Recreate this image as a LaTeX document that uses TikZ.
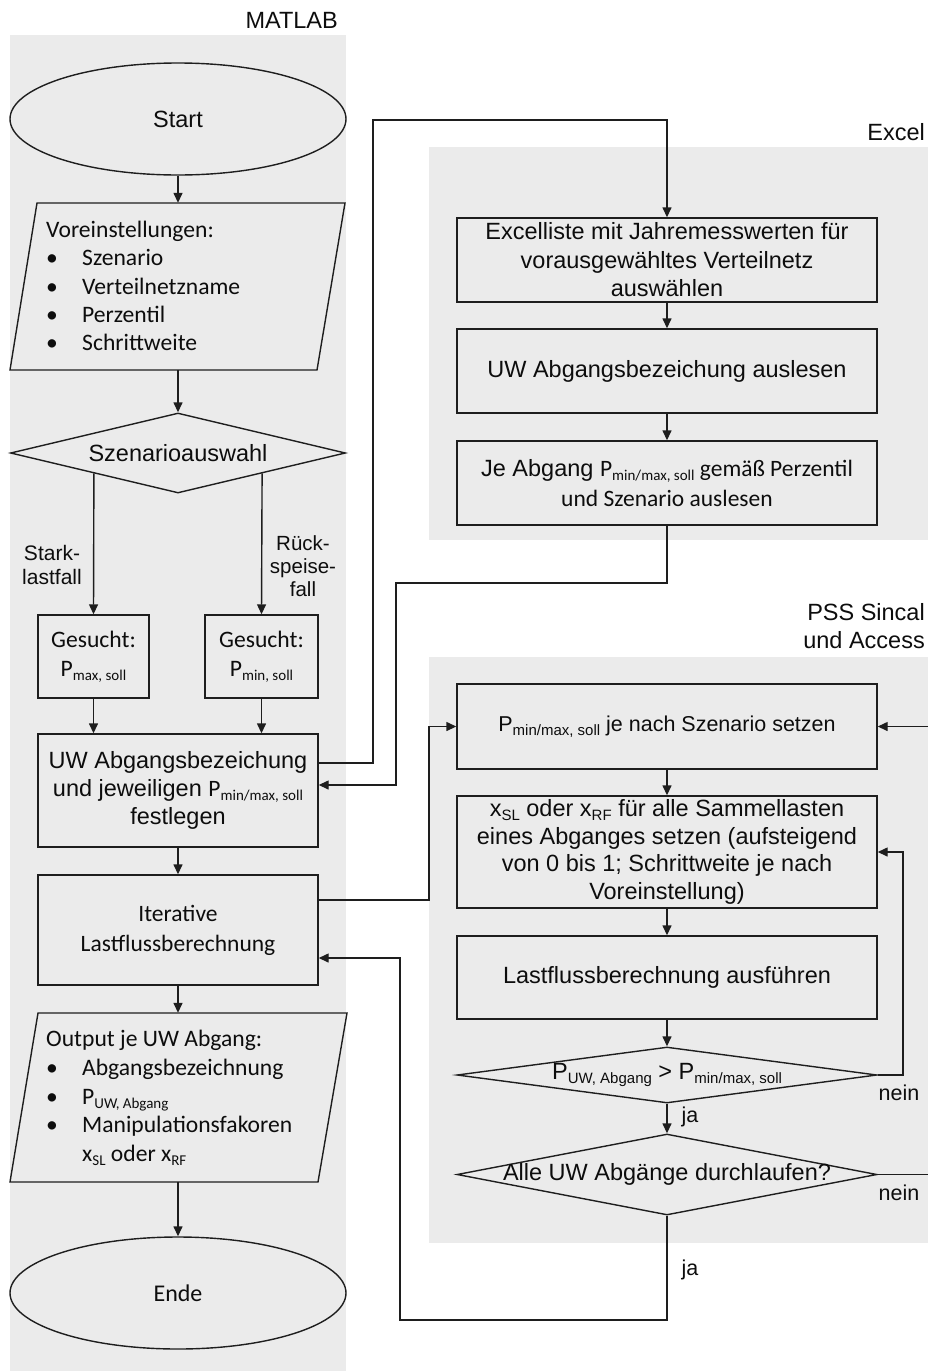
\documentclass[tikz,border=0pt]{standalone}
\usepackage{fontspec}
\setmainfont{Liberation Sans}
\newfontfamily\cali{Carlito}
\usetikzlibrary{shapes.geometric,arrows.meta,calc}
\definecolor{panel}{HTML}{EBEBEB}
\definecolor{linec}{HTML}{1E1E1E}
\definecolor{txt}{HTML}{0D0D0D}
\newcommand\fsz[2]{\fontsize{#1}{#2}\selectfont}
\newcommand\sbs[1]{\raisebox{-4pt}{\fontsize{15}{15}\selectfont #1}}
\newcommand\bul{\makebox[36pt][l]{\textbullet}}
\begin{document}
\begin{tikzpicture}[x=1pt,y=-1pt,
 lw/.style={line width=1.4pt, draw=linec},
 box/.style={lw, rectangle, inner sep=0pt, align=center, text=txt, font=\fsz{23.5}{28.5}},
 ellip/.style={lw, ellipse, inner sep=0pt, minimum width=336pt, minimum height=112pt, text=txt, font=\fsz{23.5}{28.5}},
 dia/.style={lw, diamond, inner sep=0pt, text=txt, font=\fsz{23.5}{28.5}},
 arr/.style={lw, -{Triangle[length=10pt,width=9pt]}},
 lbl/.style={text=txt, align=center, inner sep=0pt},
 ghost/.style={inner sep=0pt},
]
\useasboundingbox (0,0) rectangle (928,1371);
% panels
\fill[panel] (10,35) rectangle (346,1371);
\fill[panel] (429,147) rectangle (928,540);
\fill[panel] (429,657) rectangle (928,1243);
% panel titles
\node[lbl, anchor=east, font=\fsz{23.5}{28}] (tmat) at (338,20) {MATLAB};
\node[lbl, anchor=east, font=\fsz{23.5}{28}] (texc) at (925,132) {Excel};
\node[lbl, anchor=east, align=right, font=\fsz{23.5}{28}] (tpss) at (925,626) {PSS Sincal\\und Access};
% helper coordinates
\coordinate (xl1) at (373,0);
\coordinate (xl2) at (396,0);
\coordinate (xl3) at (429,0);
\coordinate (xl4) at (400,0);
\coordinate (xr1) at (903,0);
\coordinate (xr2) at (945,0);
\coordinate (ytop) at (0,120);
\coordinate (ymid) at (0,583);
\coordinate (ybot) at (0,1320);
% MATLAB column
\node[ellip, fill=panel] (start) at (178,119) {Start};
\draw[lw, fill=panel] (10,370) -- (37,203) -- (345,203) -- (317,370) -- cycle;
\node[ghost, minimum width=335pt, minimum height=167pt] (vor) at (178,286.5) {};
\node[lbl, anchor=west, align=left, font=\cali\fsz{23.6}{28.3}] (vortext) at (46,286) {Voreinstellungen:\\\bul Szenario\\\bul Verteilnetzname\\\bul Perzentil\\\bul Schrittweite};
\node[dia, fill=panel, minimum width=335pt, minimum height=80pt, aspect=4.19] (sz) at (178,453) {\makebox[0pt]{Szenarioauswahl}};
\node[box, fill=panel, minimum width=111pt, minimum height=83pt, font=\cali\fsz{23.6}{29}] (gl) at (93.5,656.5) {Gesucht:\\P\sbs{max, soll}};
\node[box, fill=panel, minimum width=113pt, minimum height=83pt, font=\cali\fsz{23.6}{29}] (gr) at (261.5,656.5) {Gesucht:\\P\sbs{min, soll}};
\node[lbl, font=\fsz{21}{24}] (lstark) at (52,565) {Stark-\\lastfall};
\node[lbl, font=\fsz{20.5}{23}] (lrueck) at (303,566) {R\"uck-\\speise-\\fall};
\node[box, fill=panel, minimum width=280pt, minimum height=113pt, font=\fsz{23.5}{28}] (uw) at (178,790.5) {UW Abgangsbezeichung\\und jeweiligen {\cali P\sbs{min/max, soll}}\\festlegen};
\node[box, fill=panel, minimum width=280pt, minimum height=110pt, font=\cali\fsz{23.5}{30}] (it) at (178,930) {Iterative\\Lastflussberechnung};
\draw[lw, fill=panel] (10,1182) -- (38,1013) -- (347,1013) -- (318,1182) -- cycle;
\node[ghost, minimum width=337pt, minimum height=169pt] (out) at (178,1097.5) {};
\node[lbl, anchor=west, align=left, font=\cali\fsz{23.6}{28.7}] (outtext) at (46,1098) {Output je UW Abgang:\\\bul Abgangsbezeichnung\\\bul P\sbs{UW, Abgang}\\\bul Manipulationsfakoren\\\hspace*{36pt}x\sbs{SL} oder x\sbs{RF}};
\node[ellip, fill=panel, font=\cali\fsz{24}{28}] (ende) at (178,1293) {Ende};
% Excel column
\node[box, fill=panel, minimum width=420pt, minimum height=84pt] (e1) at (667,260) {Excelliste mit Jahremesswerten f\"ur\\vorausgew\"ahltes Verteilnetz\\ausw\"ahlen};
\node[box, fill=panel, minimum width=420pt, minimum height=84pt] (e2) at (667,371) {UW Abgangsbezeichung auslesen};
\node[box, fill=panel, minimum width=420pt, minimum height=84pt, font=\fsz{23.5}{30}] (e3) at (667,483) {Je Abgang {\cali P\sbs{min/max, soll} gem\"a\ss{} Perzentil}\\{\cali und Szenario auslesen}};
% PSS column
\node[box, fill=panel, minimum width=420pt, minimum height=85pt, font=\fsz{21.5}{26}] (p1) at (667,726.5) {P\sbs{min/max, soll} je nach Szenario setzen};
\node[box, fill=panel, minimum width=420pt, minimum height=112pt, font=\fsz{23.5}{27.8}] (p2) at (667,852) {x\sbs{SL} oder x\sbs{RF} f\"ur alle Sammellasten\\eines Abganges setzen (aufsteigend\\von 0 bis 1; Schrittweite je nach\\Voreinstellung)};
\node[box, fill=panel, minimum width=420pt, minimum height=83pt] (p3) at (667,977.5) {Lastflussberechnung ausf\"uhren};
\node[dia, fill=panel, minimum width=420pt, minimum height=56pt, aspect=7.5] (d1) at (667,1075) {\makebox[0pt]{P\sbs{UW, Abgang} > P\sbs{min/max, soll}}};
\node[dia, fill=panel, minimum width=420pt, minimum height=81pt, aspect=5.2] (d2) at (667,1174.5) {\makebox[0pt]{\raisebox{-2pt}{Alle UW Abg\"ange durchlaufen?}}};
\node[lbl, font=\fsz{21.5}{24}] (n1) at (899,1093) {nein};
\node[lbl, font=\fsz{21.5}{24}] (n2) at (899,1193) {nein};
\node[lbl, font=\fsz{21.5}{24}] (j1) at (690,1117) {ja};
\node[lbl, font=\fsz{21.5}{24}] (j2) at (690,1270) {ja};
% straight connectors
\draw[arr] (start.south) -- (vor.north);
\draw[arr] (vor.south) -- (sz.north);
\draw[arr] (sz.south west) -- (gl.north);
\draw[arr] (sz.south east) -- (gr.north);
\draw[arr] (gl.south) -- (gl.south |- uw.north);
\draw[arr] (gr.south) -- (gr.south |- uw.north);
\draw[arr] (uw.south) -- (it.north);
\draw[arr] (it.south) -- (out.north);
\draw[arr] (out.south) -- (ende.north);
\draw[arr] (e1.south) -- (e2.north);
\draw[arr] (e2.south) -- (e3.north);
\draw[arr] (p1.south) -- (p2.north);
\draw[arr] (p2.south) -- (p3.north);
\draw[arr] (p3.south) -- (d1.north);
\draw[arr] (d1.south) -- (d2.north);
% routed connectors
\draw[arr] ([yshift=27.5pt]uw.east) -| (xl1 |- ytop) -| (e1.north);
\draw[arr] (e3.south) |- (xl2 |- ymid) |- ([yshift=5.5pt]uw.east);
\draw[arr] ([yshift=30pt]it.east) -| (xl3 |- p1.west) -- (p1.west);
\draw[arr] (d2.south) |- (xl4 |- ybot) |- ([yshift=-28pt]it.east);
\draw[arr] (d1.east) -| (xr1 |- p2.east) -- (p2.east);
\draw[arr] (d2.east) -| (xr2 |- p1.east) -- (p1.east);
\end{tikzpicture}
\end{document}
